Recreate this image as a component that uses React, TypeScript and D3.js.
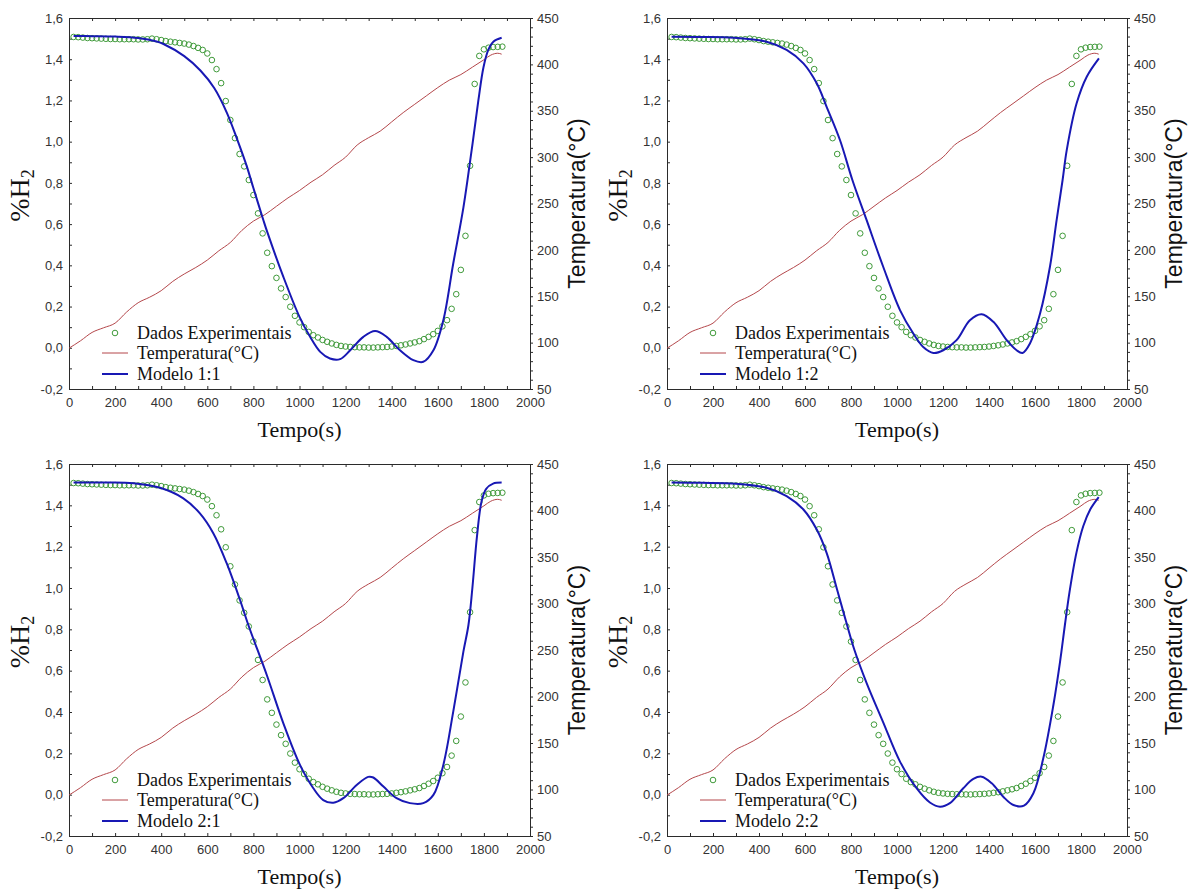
import React, { useEffect, useRef } from "react";
import * as d3 from "d3";

// experimental points (time in s, %H2)
const expTime = [
  20, 40, 60, 80, 100, 120, 140, 160, 180, 200, 220, 240, 260, 280, 300, 320, 340, 360, 380, 400,
  420, 440, 460, 480, 500, 520, 540, 560, 580, 600, 620, 640, 660, 680, 700, 720, 740, 760, 780, 800,
  820, 840, 860, 880, 900, 920, 940, 960, 980, 1000, 1020, 1040, 1060, 1080, 1100, 1120, 1140, 1160, 1180, 1200,
  1220, 1240, 1260, 1280, 1300, 1320, 1340, 1360, 1380, 1400, 1420, 1440, 1460, 1480, 1500, 1520, 1540, 1560, 1580, 1600,
  1620, 1640, 1660, 1680, 1700, 1720, 1740, 1760, 1780, 1800, 1820, 1840, 1860, 1880,
];
const expH2 = [
  1.508, 1.507, 1.505, 1.503, 1.502, 1.501, 1.5, 1.499, 1.498, 1.498, 1.497, 1.497, 1.497, 1.497, 1.496, 1.496, 1.497, 1.5, 1.497, 1.493,
  1.488, 1.485, 1.482, 1.479, 1.476, 1.471, 1.464, 1.455, 1.445, 1.428, 1.396, 1.352, 1.284, 1.197, 1.105, 1.017, 0.94, 0.88, 0.814, 0.741,
  0.652, 0.555, 0.461, 0.396, 0.339, 0.288, 0.246, 0.199, 0.155, 0.123, 0.1, 0.077, 0.061, 0.05, 0.038, 0.029, 0.021, 0.014, 0.009, 0.006,
  0.004, 0.003, 0.002, 0.002, 0.001, 0.001, 0.002, 0.003, 0.004, 0.006, 0.009, 0.012, 0.016, 0.021, 0.026, 0.032, 0.042, 0.053, 0.066, 0.082,
  0.104, 0.134, 0.189, 0.26, 0.378, 0.543, 0.883, 1.28, 1.416, 1.448, 1.456, 1.459, 1.46, 1.461,
];

// temperature (°C), right axis
const tempTime = [
  0, 50, 100, 150, 200, 250, 300, 350, 400, 450, 500, 550, 600, 650, 700, 750, 800, 850, 900, 950,
  1000, 1050, 1100, 1150, 1200, 1250, 1300, 1350, 1400, 1450, 1500, 1550, 1600, 1650, 1700, 1750, 1800, 1830, 1860, 1877,
];
const tempC = [
  94, 102, 111, 116, 121, 133, 143, 149, 156, 166, 174, 181, 189, 199, 208, 221, 231, 238, 247, 256,
  264, 273, 281, 291, 300, 313, 321, 328, 338, 348, 357, 366, 375, 383, 389, 397, 405, 410, 412, 411,
];

// model curves
const m11Time = [20, 100, 200, 300, 380, 410, 500, 570, 630, 685, 730, 770, 800, 843, 860, 930, 1000, 1046, 1090, 1132, 1176, 1220, 1277, 1328, 1378, 1436, 1494, 1537, 1581, 1624, 1667, 1711, 1747, 1776, 1798, 1819, 1841, 1877];
const m11H2 = [1.513, 1.512, 1.51, 1.503, 1.486, 1.474, 1.415, 1.345, 1.26, 1.14, 1.01, 0.885, 0.775, 0.62, 0.562, 0.344, 0.15, 0.053, -0.02, -0.052, -0.055, -0.012, 0.053, 0.081, 0.053, -0.012, -0.06, -0.068, -0.012, 0.134, 0.409, 0.68, 0.96, 1.2, 1.36, 1.445, 1.485, 1.504];

const m12Time = [20, 150, 290, 433, 520, 593, 651, 694, 752, 806, 868, 940, 1013, 1071, 1114, 1158, 1201, 1259, 1317, 1368, 1419, 1477, 1520, 1546, 1578, 1622, 1665, 1694, 1720, 1738, 1781, 1825, 1878];
const m12H2 = [1.509, 1.508, 1.504, 1.485, 1.445, 1.38, 1.283, 1.169, 1.008, 0.814, 0.619, 0.393, 0.183, 0.069, 0.004, -0.025, -0.012, 0.037, 0.134, 0.163, 0.126, 0.037, -0.012, -0.025, 0.021, 0.166, 0.393, 0.619, 0.814, 0.959, 1.186, 1.315, 1.404];

const m21Time = [20, 150, 280, 395, 496, 568, 626, 684, 742, 778, 858, 930, 1002, 1060, 1103, 1147, 1190, 1248, 1298, 1320, 1364, 1421, 1479, 1537, 1581, 1624, 1667, 1711, 1733, 1750, 1770, 1790, 1810, 1840, 1877];
const m21H2 = [1.51, 1.51, 1.507, 1.485, 1.434, 1.361, 1.265, 1.12, 0.942, 0.821, 0.579, 0.345, 0.144, 0.031, -0.026, -0.039, -0.017, 0.047, 0.086, 0.083, 0.039, -0.017, -0.041, -0.041, -0.001, 0.144, 0.402, 0.692, 0.821, 1.0, 1.25, 1.42, 1.48, 1.505, 1.51];

const m22Time = [20, 150, 300, 433, 520, 593, 651, 694, 740, 778, 815, 868, 940, 1013, 1086, 1143, 1187, 1230, 1288, 1332, 1368, 1412, 1462, 1506, 1552, 1593, 1636, 1680, 1709, 1730, 1750, 1780, 1810, 1840, 1877];
const m22H2 = [1.51, 1.509, 1.505, 1.485, 1.445, 1.38, 1.283, 1.17, 0.99, 0.84, 0.7, 0.54, 0.35, 0.16, 0.03, -0.038, -0.058, -0.041, 0.031, 0.076, 0.087, 0.055, -0.01, -0.05, -0.053, 0.007, 0.176, 0.434, 0.644, 0.821, 0.98, 1.17, 1.3, 1.38, 1.44];

const modelNames = ["Modelo 1:1", "Modelo 1:2", "Modelo 2:1", "Modelo 2:2"];
const modelTimes = [m11Time, m12Time, m21Time, m22Time];
const modelValues = [m11H2, m12H2, m21H2, m22H2];

const legendLabels = ["Dados Experimentais", "Temperatura(°C)"];
const xTitle = "Tempo(s)";
const rightTitle = "Temperatura(°C)";

const boxes = [
  { x0: 69, x1: 530, y0: 18, y1: 389 },
  { x0: 667, x1: 1127, y0: 18, y1: 389 },
  { x0: 69, x1: 530, y0: 464, y1: 836 },
  { x0: 667, x1: 1127, y0: 464, y1: 836 },
];

const SANS = "'Liberation Sans', Arial, sans-serif";
const SERIF = "'Liberation Serif', 'Times New Roman', serif";
const GREEN = "#3f9a3a";
const RED = "#b4474b";
const BLUE = "#1818b4";
const AXIS = "#2b2b2b";

const comma = (d: number) => d3.format(".1f")(d).replace(".", ",").replace("−", "-");

const App = () => {
  const svgRef = useRef<SVGSVGElement>(null);

  useEffect(() => {
    const svg = d3.select(svgRef.current);
    svg.selectAll("*").remove();

    boxes.forEach((b, i) => {
      const g = svg.append("g");
      const x = d3.scaleLinear().domain([0, 2000]).range([b.x0, b.x1]);
      const y = d3.scaleLinear().domain([-0.2, 1.6]).range([b.y1, b.y0]);
      const yT = d3.scaleLinear().domain([50, 450]).range([b.y1, b.y0]);

      const xTicks = d3.range(0, 21).map((k) => k * 100);
      const yTicks = d3.range(-2, 17).map((k) => k / 10);
      const tTicks = d3.range(5, 46).map((k) => k * 10);

      const styleAxis = (a: any) => {
        a.attr("font-size", 13).attr("font-family", SANS).attr("color", AXIS);
        a.selectAll("text").attr("fill", "#333");
      };

      g.append("g")
        .attr("transform", `translate(0,${b.y1})`)
        .call(
          d3.axisBottom(x).tickValues(xTicks).tickSizeInner(-3).tickSizeOuter(0).tickPadding(9)
            .tickFormat((d: any) => (d % 200 === 0 ? String(d) : ""))
        )
        .call(styleAxis);
      g.append("g")
        .attr("transform", `translate(0,${b.y0})`)
        .call(d3.axisTop(x).tickValues(xTicks).tickSizeInner(-3).tickSizeOuter(0).tickFormat(() => ""))
        .call(styleAxis);
      g.append("g")
        .attr("transform", `translate(${b.x0},0)`)
        .call(
          d3.axisLeft(y).tickValues(yTicks).tickSizeInner(-3).tickSizeOuter(0).tickPadding(6)
            .tickFormat((d: any) => (Math.round(d * 10) % 2 === 0 ? comma(d) : ""))
        )
        .call(styleAxis);
      g.append("g")
        .attr("transform", `translate(${b.x1},0)`)
        .call(
          d3.axisRight(yT).tickValues(tTicks).tickSizeInner(3).tickSizeOuter(0).tickPadding(4)
            .tickFormat((d: any) => (d % 50 === 0 ? String(d) : ""))
        )
        .call(styleAxis);

      // temperature
      const tData = tempTime.map((t, k) => [t, tempC[k]] as [number, number]);
      g.append("path")
        .datum(tData)
        .attr("fill", "none")
        .attr("stroke", RED)
        .attr("stroke-width", 1)
        .attr("d", d3.line().x((d) => x(d[0])).y((d) => yT(d[1])).curve(d3.curveMonotoneX));

      // experimental points
      g.selectAll(".pt")
        .data(expTime.map((t, k) => [t, expH2[k]]))
        .join("circle")
        .attr("class", "pt")
        .attr("cx", (d) => x(d[0]))
        .attr("cy", (d) => y(d[1]))
        .attr("r", 2.8)
        .attr("fill", "none")
        .attr("stroke", GREEN)
        .attr("stroke-width", 1);

      // model
      const mData = modelTimes[i].map((t, k) => [t, modelValues[i][k]] as [number, number]);
      g.append("path")
        .datum(mData)
        .attr("fill", "none")
        .attr("stroke", BLUE)
        .attr("stroke-width", 2)
        .attr("d", d3.line().x((d) => x(d[0])).y((d) => y(d[1])).curve(d3.curveCatmullRom.alpha(0.5)));

      // legend
      const lx = b.x0;
      const rows = [b.y1 - 56, b.y1 - 36, b.y1 - 15];
      g.append("circle").attr("cx", lx + 46).attr("cy", rows[0]).attr("r", 2.8)
        .attr("fill", "none").attr("stroke", GREEN);
      g.append("line").attr("x1", lx + 33).attr("x2", lx + 59).attr("y1", rows[1]).attr("y2", rows[1])
        .attr("stroke", RED).attr("stroke-width", 1);
      g.append("line").attr("x1", lx + 33).attr("x2", lx + 59).attr("y1", rows[2]).attr("y2", rows[2])
        .attr("stroke", BLUE).attr("stroke-width", 2);
      [legendLabels[0], legendLabels[1], modelNames[i]].forEach((s, k) => {
        g.append("text").attr("x", lx + 68).attr("y", rows[k] + 6)
          .style("font-family", SERIF).attr("font-size", 18).attr("fill", "#111").text(s);
      });

      // titles
      g.append("text")
        .attr("x", (b.x0 + b.x1) / 2).attr("y", b.y1 + 48)
        .attr("text-anchor", "middle").style("font-family", SERIF).attr("font-size", 22).attr("fill", "#111")
        .text(xTitle);
      const yl = g.append("text")
        .attr("transform", `translate(${b.x0 - 40},${(b.y0 + b.y1) / 2 - 8}) rotate(-90)`)
        .attr("text-anchor", "middle").style("font-family", SERIF).attr("font-size", 28).attr("fill", "#111");
      yl.append("tspan").text("%H");
      yl.append("tspan").attr("dy", 5).attr("font-size", 18).text("2");
      g.append("text")
        .attr("transform", `translate(${b.x1 + 55},${(b.y0 + b.y1) / 2}) rotate(-90)`)
        .attr("text-anchor", "middle").style("font-family", SANS).attr("font-size", 23).attr("fill", "#111")
        .text(rightTitle);
    });
  }, []);

  return (
    <svg
      ref={svgRef}
      width={1192}
      height={891}
      style={{ position: "absolute", left: 0, top: 0, background: "#fff" }}
    />
  );
};

export default App;
